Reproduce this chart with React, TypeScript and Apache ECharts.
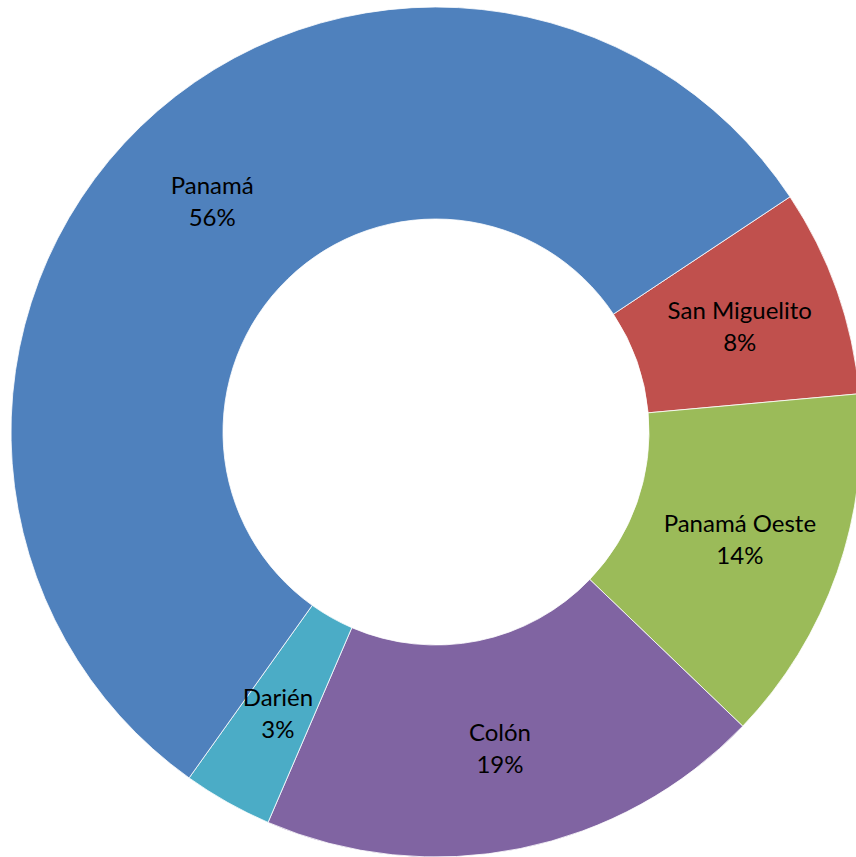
import React, { useEffect, useRef } from "react";
import * as echarts from "echarts";

const categories = ["San Miguelito", "Panamá Oeste", "Colón", "Darién", "Panamá"];
const values = [7.9, 13.6, 19.3, 3.4, 55.8];
const colors = ["#C0504D", "#9BBB59", "#8064A2", "#4BACC6", "#4F81BD"];

export default function App() {
  const ref = useRef<HTMLDivElement>(null);
  useEffect(() => {
    document.body.style.margin = "0";
    const chart = echarts.init(ref.current!, null, { renderer: "svg" });
    chart.setOption({
      animation: false,
      backgroundColor: "#ffffff",
      series: [
        {
          type: "pie",
          center: [436, 432],
          radius: [213, 425],
          startAngle: 33.6,
          clockwise: true,
          avoidLabelOverlap: false,
          itemStyle: { borderColor: "#ffffff", borderWidth: 0.8 },
          label: {
            show: true,
            position: "inside",
            color: "#000000",
            fontFamily: "Lato",
            fontSize: 24,
            lineHeight: 32,
            formatter: (p: any) => `${p.name}\n${Math.round(p.percent)}%`,
          },
          labelLine: { show: false },
          emphasis: { disabled: true },
          data: categories.map((c, i) => ({
            name: c,
            value: values[i],
            itemStyle: { color: colors[i] },
          })),
        },
      ],
    });
    return () => chart.dispose();
  }, []);
  return <div ref={ref} style={{ width: 856, height: 857 }} />;
}
